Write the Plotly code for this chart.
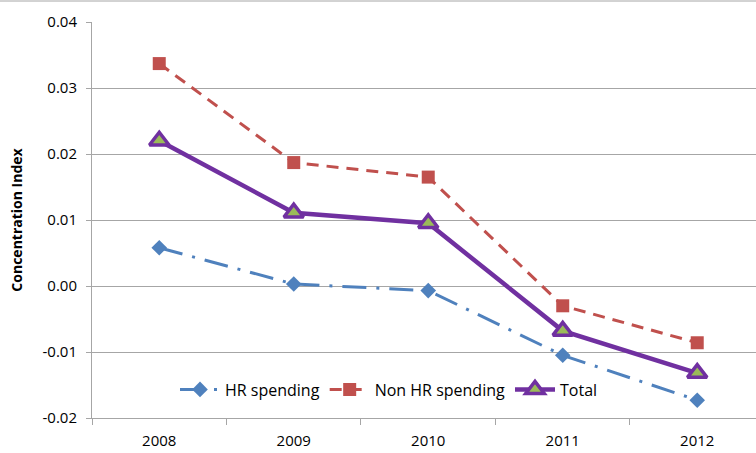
import plotly.graph_objects as go

years = ["2008", "2009", "2010", "2011", "2012"]
hr_spending = [0.0058, 0.0003, -0.0007, -0.0105, -0.0173]
non_hr_spending = [0.0337, 0.0187, 0.0165, -0.0030, -0.0086]
total = [0.0220, 0.0111, 0.0095, -0.0068, -0.0132]
y_ticks = [-0.02, -0.01, 0.0, 0.01, 0.02, 0.03, 0.04]
y_tick_labels = ["-0.02", "-0.01", "0.00", "0.01", "0.02", "0.03", "0.04"]

font_family = "Open Sans, Liberation Sans, sans-serif"

fig = go.Figure()
fig.add_trace(go.Scatter(
    x=years, y=hr_spending, name="HR spending", mode="lines+markers",
    line=dict(color="#4F81BD", width=3, dash="24px,10px,3px,10px"),
    marker=dict(symbol="diamond", size=12, color="#4F81BD"),
))
fig.add_trace(go.Scatter(
    x=years, y=non_hr_spending, name="Non HR spending", mode="lines+markers",
    line=dict(color="#C0504D", width=3, dash="12px,8px"),
    marker=dict(symbol="square", size=13, color="#C0504D"),
))
fig.add_trace(go.Scatter(
    x=years, y=total, name="Total", mode="lines+markers",
    line=dict(color="#7030A0", width=4.5),
    marker=dict(symbol="triangle-up", size=17, color="#9BBB59",
                line=dict(color="#7030A0", width=3.5)),
))

fig.update_layout(
    width=756, height=453,
    margin=dict(l=92, r=0, t=22, b=35),
    paper_bgcolor="white", plot_bgcolor="white",
    font=dict(family=font_family, size=15, color="#000000"),
    showlegend=True,
    legend=dict(orientation="h", x=0.125, y=0.072, xanchor="left", yanchor="middle",
                bgcolor="rgba(255,255,255,0)", font=dict(size=16),
                itemwidth=40, traceorder="normal"),
    xaxis=dict(
        type="category", range=[-0.5, 4.437],
        showgrid=False, showline=True, linecolor="#A6A6A6", linewidth=1,
        ticks="outside", tickson="boundaries", ticklen=6, tickcolor="#A6A6A6",
        tickfont=dict(size=15), zeroline=False, ticklabelstandoff=9,
    ),
    yaxis=dict(
        range=[-0.02, 0.04], tickvals=y_ticks, ticktext=y_tick_labels,
        showgrid=True, gridcolor="#A6A6A6", gridwidth=1,
        showline=True, linecolor="#A6A6A6", linewidth=1,
        ticks="outside", ticklen=5, tickcolor="#A6A6A6",
        zeroline=False, tickfont=dict(size=15), ticklabelstandoff=6,
        title=dict(text="<b>Concentration Index</b>", font=dict(size=14), standoff=16),
    ),
)
fig.update_layout(shapes=[dict(type="line", xref="paper", yref="paper",
                               x0=-92/664, x1=1.0, y0=(396+21)/396, y1=(396+21)/396,
                               line=dict(color="#A6A6A6", width=1))])

fig.write_html("out.html")
